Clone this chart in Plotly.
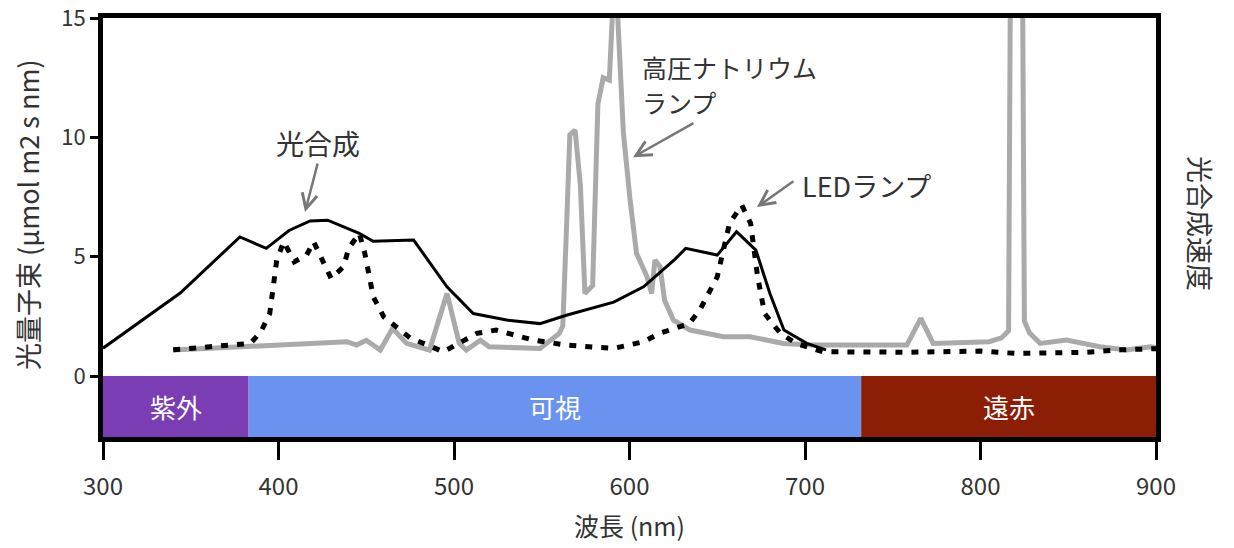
import plotly.graph_objects as go

# ---- data ----
photo_x = [300, 344, 378, 393, 406, 418, 428, 446, 454, 477, 496, 511, 530, 549, 564, 591, 608, 621, 626, 632, 650, 661, 672, 680, 688, 701, 712]
photo_y = [1.17, 3.48, 5.83, 5.35, 6.1, 6.5, 6.53, 5.98, 5.65, 5.7, 3.74, 2.62, 2.35, 2.2, 2.55, 3.1, 3.74, 4.58, 4.9, 5.35, 5.07, 6.05, 5.28, 3.46, 1.93, 1.37, 1.1]

led_x = [340, 384, 390, 395, 399, 403, 409, 416, 420, 425, 430, 437, 440, 446, 449, 454, 460, 475, 494, 513, 524, 545, 564, 591, 608, 617, 634, 640, 650, 657, 664, 669, 673, 677, 686, 695, 710, 760, 800, 820, 840, 860, 880, 900]
led_y = [1.1, 1.37, 1.86, 2.62, 4.86, 5.63, 4.79, 5.07, 5.63, 4.86, 4.09, 4.58, 5.35, 5.98, 5.21, 3.32, 2.48, 1.6, 1.02, 1.79, 1.93, 1.51, 1.3, 1.16, 1.44, 1.79, 2.2, 2.76, 4.16, 6.4, 7.16, 6.4, 4.16, 2.62, 1.79, 1.37, 1.02, 1.0, 1.05, 0.95, 0.95, 1.0, 1.1, 1.15]

na_x = [340, 384, 429, 439, 444.5, 450, 458, 465, 473, 486, 496, 503, 507, 515, 520, 549, 560, 562, 564, 566, 569, 572, 574.6, 579, 582, 585, 588.5, 590.5, 593, 596.5, 600.3, 604, 610, 612.6, 614.5, 617.4, 620, 625, 634.5, 653.5, 668.7, 687.6, 705, 758, 766, 773, 805, 812, 816, 817, 824, 825, 828, 834, 849, 868, 883, 897, 900]
na_y = [1.09, 1.23, 1.37, 1.44, 1.3, 1.5, 1.09, 2.0, 1.37, 1.09, 3.46, 1.37, 1.09, 1.5, 1.23, 1.16, 1.79, 2.1, 6.0, 10.1, 10.3, 8.0, 3.46, 3.8, 11.4, 12.5, 12.4, 15.5, 15.5, 10.2, 7.4, 5.14, 4.16, 3.46, 4.86, 4.58, 3.18, 2.35, 1.93, 1.65, 1.65, 1.37, 1.3, 1.3, 2.42, 1.37, 1.44, 1.6, 1.9, 16, 16, 2.3, 1.8, 1.37, 1.51, 1.23, 1.09, 1.23, 1.2]

band_start = [300, 383, 732]
band_end = [383, 732, 900]
band_labels = ["紫外", "可視", "遠赤"]
band_colors = ["#7a3db3", "#6a93f0", "#8b1e05"]
band_bottom = -2.55

x_ticks = [300, 400, 500, 600, 700, 800, 900]
y_ticks = [0, 5, 10, 15]

FONT = "Noto Sans CJK JP"
TXT = "#333333"
ARROW = "#777777"

fig = go.Figure()
fig.add_trace(go.Scatter(x=na_x, y=na_y, mode="lines", line=dict(color="#aaaaaa", width=5), name="高圧ナトリウムランプ"))
fig.add_trace(go.Scatter(x=photo_x, y=photo_y, mode="lines", line=dict(color="black", width=3), name="光合成"))
fig.add_trace(go.Scatter(x=led_x, y=led_y, mode="lines", line=dict(color="black", width=5, dash="7px,9px"), name="LEDランプ"))

shapes = []
annotations = []
for s, e, lab, c in zip(band_start, band_end, band_labels, band_colors):
    shapes.append(dict(type="rect", xref="x", yref="y", x0=s, x1=e, y0=band_bottom, y1=0,
                       fillcolor=c, line=dict(width=0), layer="below"))
    annotations.append(dict(x=(s + e) / 2, y=band_bottom / 2, xref="x", yref="y", text=lab,
                            showarrow=False, font=dict(family=FONT, size=26, color="white")))

# text labels
annotations += [
    dict(x=422.5, y=9.75, xref="x", yref="y", text="光合成", showarrow=False,
         font=dict(family=FONT, size=28, color=TXT)),
    dict(x=606, y=12.95, xref="x", yref="y", text="高圧ナトリウム", showarrow=False,
         xanchor="left", yanchor="middle", font=dict(family=FONT, size=25, color=TXT)),
    dict(x=606, y=11.5, xref="x", yref="y", text="ランプ", showarrow=False,
         xanchor="left", yanchor="middle", font=dict(family=FONT, size=25, color=TXT)),
    dict(x=697, y=8.0, xref="x", yref="y", text="LEDランプ", showarrow=False,
         xanchor="left", font=dict(family=FONT, size=27, color=TXT)),
    dict(x=1.042, y=0.51, xref="paper", yref="paper", text="光合成速度", showarrow=False,
         xanchor="center", yanchor="middle",
         textangle=90, font=dict(family=FONT, size=27, color=TXT)),
    dict(x=-0.0712, y=0.53, xref="paper", yref="paper", text="光量子束 (µmol m2 s nm)", showarrow=False,
         xanchor="center", yanchor="middle",
         textangle=-90, font=dict(family=FONT, size=27, color=TXT)),
]
# arrows
for tx, ty, axp, ayp in [(415.1, 6.87, 13, -50), (602, 9.17, 62, -35), (672.6, 7.08, 38, -27)]:
    annotations.append(dict(x=tx, y=ty, xref="x", yref="y", ax=axp, ay=ayp, text="",
                            showarrow=True, arrowhead=5, arrowsize=1.2, arrowwidth=2.5,
                            arrowcolor=ARROW))

fig.update_layout(
    width=1234, height=548,
    margin=dict(l=103, r=78, t=18, b=111, autoexpand=False),
    plot_bgcolor="white", paper_bgcolor="white",
    showlegend=False,
    shapes=shapes, annotations=annotations,
    font=dict(family=FONT, color=TXT),
)
fig.update_xaxes(range=[300, 900], tickvals=x_ticks, ticks="outside", ticklen=18, tickwidth=3,
                 tickcolor="black", showline=True, linecolor="black", linewidth=5, mirror=True,
                 showgrid=False, zeroline=False, automargin=False, ticklabeloverflow="allow",
                 ticklabelstandoff=6,
                 tickfont=dict(family=FONT, size=24, color=TXT),
                 title=dict(text="波長 (nm)", font=dict(family=FONT, size=25, color=TXT), standoff=19))
fig.update_yaxes(range=[band_bottom, 15], tickvals=y_ticks, ticks="outside", ticklen=8, tickwidth=3,
                 tickcolor="black", showline=True, linecolor="black", linewidth=5, mirror=True,
                 showgrid=False, zeroline=False, automargin=False, ticklabeloverflow="allow",
                 tickfont=dict(family=FONT, size=22, color=TXT))

fig.write_html("out.html", config={"displayModeBar": False},
               post_script="document.body.style.margin='0';document.body.style.padding='0';document.body.style.overflow='hidden';")
